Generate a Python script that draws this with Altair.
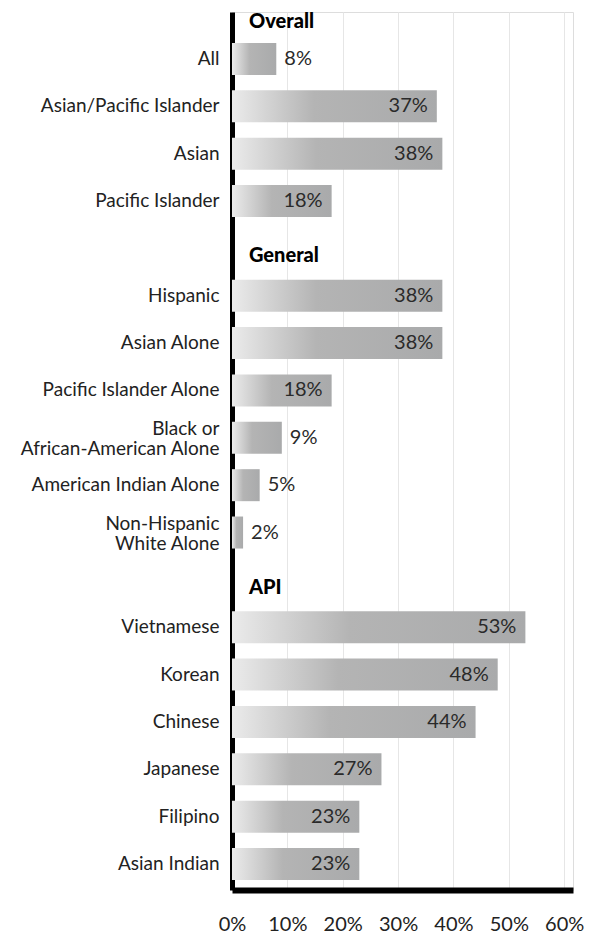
import altair as alt
import pandas as pd

# ---- data ----
overall_labels = ["All", "Asian/Pacific Islander", "Asian", "Pacific Islander"]
overall_values = [8, 37, 38, 18]
general_labels = ["Hispanic", "Asian Alone", "Pacific Islander Alone",
                  "Black or \nAfrican-American Alone", "American Indian Alone",
                  "Non-Hispanic \nWhite Alone"]
general_values = [38, 38, 18, 9, 5, 2]
api_labels = ["Vietnamese", "Korean", "Chinese", "Japanese", "Filipino", "Asian Indian"]
api_values = [53, 48, 44, 27, 23, 23]
group_names = ["Overall", "General", "API"]
x_ticks = [0, 10, 20, 30, 40, 50, 60]

# row order: first group's header sits above its first row, the others get a spacer row
rows = overall_labels + [group_names[1]] + general_labels + [group_names[2]] + api_labels

bars = pd.DataFrame({
    "label": overall_labels + general_labels + api_labels,
    "value": overall_values + general_values + api_values,
})
bars["text"] = bars["value"].astype(str) + "%"

head_first = pd.DataFrame({"label": [overall_labels[0]], "header": [group_names[0]], "value": [0]})
head_rest = pd.DataFrame({"label": group_names[1:], "header": group_names[1:], "value": [0, 0]})

FONT = "Lato"

yscale = alt.Scale(domain=rows, paddingInner=0.324, paddingOuter=0.433, align=0.756)
xscale = alt.Scale(domain=[0, 61.6], nice=False, zero=True)

y_axis = alt.Axis(
    title=None, ticks=False, grid=False,
    domainColor="#000000", domainWidth=5,
    labelFont=FONT, labelFontSize=19, labelFontWeight=400, labelColor="#222222",
    labelPadding=13, labelLineHeight=20, labelLimit=400,
    labelOffset={"condition": {"test": "indexof(datum.value, '\\n') >= 0", "value": -9}, "value": 0},
    labelExpr="datum.label == 'General' || datum.label == 'API' ? '' : split(datum.label, '\\n')",
)
x_axis = alt.Axis(
    title=None, ticks=False, values=x_ticks,
    labelExpr="datum.value + '%'", labelFlush=False,
    domainColor="#000000", domainWidth=6,
    grid=True, gridColor="#e6e6e6", gridWidth=1,
    labelFont=FONT, labelFontSize=20, labelFontWeight=400, labelColor="#222222",
    labelPadding=24,
)

gradient = {
    "gradient": "linear", "x1": 0, "x2": 1, "y1": 0, "y2": 0,
    "stops": [
        {"offset": 0, "color": "#ebebeb"},
        {"offset": 0.4, "color": "#b4b4b4"},
        {"offset": 1, "color": "#a9aaab"},
    ],
}

base = alt.Chart(bars)

bar_layer = base.mark_bar(fill=gradient).encode(
    y=alt.Y("label:N", scale=yscale, axis=y_axis, sort=rows),
    x=alt.X("value:Q", scale=xscale, axis=x_axis),
)

inside = base.transform_filter("datum.value >= 10").mark_text(
    align="right", baseline="middle", dx=-9, font=FONT, fontSize=20, fontWeight=400,
    color="#2a2a2a"
).encode(y=alt.Y("label:N", sort=rows), x="value:Q", text="text:N")

outside = base.transform_filter("datum.value < 10").mark_text(
    align="left", baseline="middle", dx=8, font=FONT, fontSize=20, fontWeight=400,
    color="#2a2a2a"
).encode(y=alt.Y("label:N", sort=rows), x="value:Q", text="text:N")

hdr1 = alt.Chart(head_first).mark_text(
    align="left", baseline="middle", dx=17, dy=-37, font=FONT, fontSize=20,
    fontWeight=900, color="#000000"
).encode(y=alt.Y("label:N", sort=rows), x="value:Q", text="header:N")

hdr2 = alt.Chart(head_rest).mark_text(
    align="left", baseline="middle", dx=17, dy=8, font=FONT, fontSize=20,
    fontWeight=900, color="#000000"
).encode(y=alt.Y("label:N", sort=rows), x="value:Q", text="header:N")

chart = alt.layer(bar_layer, inside, outside, hdr1, hdr2).properties(
    width=341, height=878,
    autosize=alt.AutoSizeParams(type="none"),
    padding={"left": 224, "top": 4, "right": 12, "bottom": 50},
).configure_view(stroke=None).configure(background="#ffffff")

chart.save("out.html", embed_options={"renderer": "svg", "actions": False})
